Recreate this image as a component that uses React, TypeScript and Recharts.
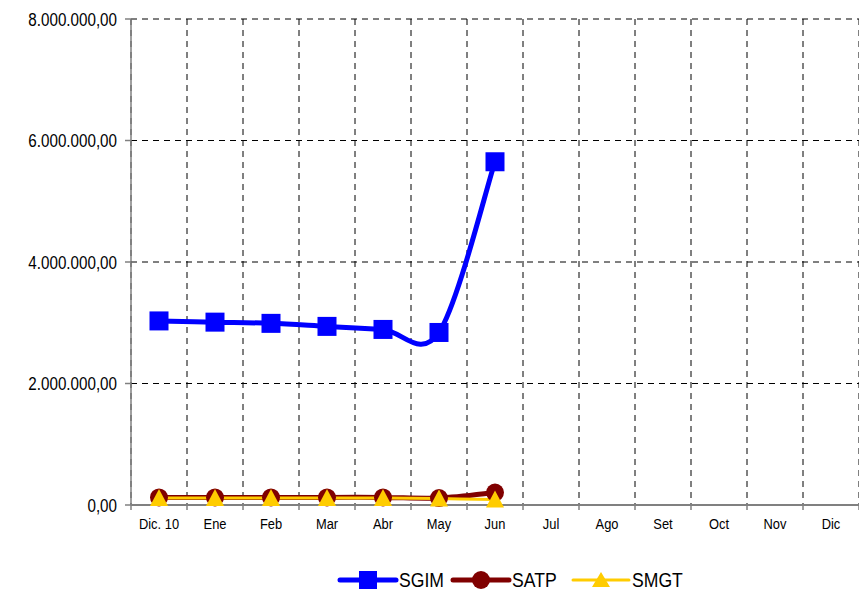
import { LineChart, Line, XAxis, YAxis, CartesianGrid } from "recharts";

const MONTHS = ["Dic. 10", "Ene", "Feb", "Mar", "Abr", "May", "Jun", "Jul", "Ago", "Set", "Oct", "Nov", "Dic"];
const SGIM = [3030000, 3010000, 2990000, 2940000, 2890000, 2840000, 5650000];
const SATP = [125000, 125000, 125000, 125000, 125000, 115000, 205000];
const SMGT = [115000, 115000, 115000, 115000, 115000, 105000, 90000];
const Y_TICKS = [0, 2000000, 4000000, 6000000, 8000000];

const W = 859;
const H = 590;
const PLOT_LEFT = 131;
const HALF_BAND = (W - PLOT_LEFT) / MONTHS.length / 2;
const FONT = "'Liberation Sans', Arial, sans-serif";

const data = SGIM.map((v, i) => ({ x: i + 0.5, SGIM: v, SATP: SATP[i], SMGT: SMGT[i] }));
const xTicks = [...MONTHS.map((_, i) => i), MONTHS.length];

// Excel-like smoothed line (Catmull-Rom bezier)
function excelSmooth(context: any) {
  let pts: number[][] = [];
  return {
    areaStart() {},
    areaEnd() {},
    lineStart() {
      pts = [];
    },
    lineEnd() {
      const n = pts.length;
      if (!n) return;
      context.moveTo(pts[0][0], pts[0][1]);
      for (let i = 0; i < n - 1; i++) {
        const p0 = pts[Math.max(i - 1, 0)];
        const p1 = pts[i];
        const p2 = pts[i + 1];
        const p3 = pts[Math.min(i + 2, n - 1)];
        context.bezierCurveTo(
          p1[0] + (p2[0] - p0[0]) / 6,
          p1[1] + (p2[1] - p0[1]) / 6,
          p2[0] - (p3[0] - p1[0]) / 6,
          p2[1] - (p3[1] - p1[1]) / 6,
          p2[0],
          p2[1]
        );
      }
    },
    point(x: number, y: number) {
      pts.push([+x, +y]);
    },
  };
}

function fmt(v: number) {
  const s = Math.round(v).toString().replace(/\B(?=(\d{3})+(?!\d))/g, ".");
  return s + ",00";
}

const YTick = (props: any) => {
  const { x, y, payload } = props;
  return (
    <g transform={`translate(${x},${y})`}>
      <text transform="scale(0.8,1)" textAnchor="end" dy="0.36em" fontSize={19} fill="#000" fontFamily={FONT}>
        {fmt(payload.value)}
      </text>
    </g>
  );
};

const XTick = (props: any) => {
  const { x, y, payload } = props;
  const label = MONTHS[payload.value];
  if (!label) return <g />;
  return (
    <g transform={`translate(${x + HALF_BAND},${y})`}>
      <text transform="scale(0.86,1)" textAnchor="middle" dy="0.71em" fontSize={15} fill="#000" fontFamily={FONT}>
        {label}
      </text>
    </g>
  );
};

const SquareDot = (props: any) => {
  const { cx, cy, index } = props;
  if (cx == null || cy == null) return <g key={index} />;
  return <rect key={index} x={cx - 9.5} y={cy - 9.5} width={19} height={19} fill="#0000FF" />;
};

const CircleDot = (props: any) => {
  const { cx, cy, index } = props;
  if (cx == null || cy == null) return <g key={index} />;
  return <circle key={index} cx={cx} cy={cy} r={9} fill="#800000" />;
};

const TriDot = (props: any) => {
  const { cx, cy, index } = props;
  if (cx == null || cy == null) return <g key={index} />;
  return <path key={index} d={`M${cx},${cy - 9}L${cx + 9},${cy + 8}L${cx - 9},${cy + 8}Z`} fill="#FFCC00" />;
};

const LEGEND = [
  { name: "SGIM", color: "#0000FF", width: 5, marker: "square" },
  { name: "SATP", color: "#800000", width: 5, marker: "circle" },
  { name: "SMGT", color: "#FFCC00", width: 3, marker: "triangle" },
];

function LegendRow() {
  const starts = [340, 453, 573];
  const cy = 580;
  return (
    <svg width={W} height={H} style={{ position: "absolute", left: 0, top: 0, pointerEvents: "none" }}>
      {LEGEND.map((item, i) => {
        const x0 = starts[i];
        const mx = x0 + 28;
        return (
          <g key={item.name}>
            <line x1={x0} y1={cy} x2={x0 + 56} y2={cy} stroke={item.color} strokeWidth={item.width} strokeLinecap="round" />
            {item.marker === "square" && <rect x={mx - 9} y={cy - 9} width={18} height={18} fill={item.color} />}
            {item.marker === "circle" && <circle cx={mx} cy={cy} r={9} fill={item.color} />}
            {item.marker === "triangle" && <path d={`M${mx},${cy - 8}L${mx + 9},${cy + 7}L${mx - 9},${cy + 7}Z`} fill={item.color} />}
            <g transform={`translate(${x0 + 59},${cy})`}>
              <text transform="scale(0.88,1)" dy="0.36em" fontSize={20} fill="#000" fontFamily={FONT}>
                {item.name}
              </text>
            </g>
          </g>
        );
      })}
    </svg>
  );
}

export default function App() {
  return (
    <div style={{ position: "absolute", left: 0, top: 0, width: W, height: H, overflow: "hidden", background: "#fff" }}>
      <style>{"html,body{margin:0;padding:0;overflow:hidden}"}</style>
      <LineChart width={W} height={H} data={data} margin={{ top: 19, right: 0, left: 0, bottom: 45 }}>
        <CartesianGrid stroke="#000" strokeDasharray="6 5" strokeWidth={1} />
        <XAxis
          dataKey="x"
          type="number"
          domain={[0, MONTHS.length]}
          ticks={xTicks}
          interval={0}
          height={40}
          tickSize={5}
          tickMargin={8}
          axisLine={{ stroke: "#808080", strokeWidth: 2 }}
          tickLine={{ stroke: "#808080", strokeWidth: 1.5 }}
          tick={<XTick />}
        />
        <YAxis
          type="number"
          domain={[0, 8000000]}
          ticks={Y_TICKS}
          interval={0}
          width={PLOT_LEFT}
          tickSize={6}
          tickMargin={8}
          axisLine={{ stroke: "#808080", strokeWidth: 1.5 }}
          tickLine={{ stroke: "#808080", strokeWidth: 1.5 }}
          tick={<YTick />}
        />
        <Line dataKey="SGIM" type={excelSmooth as any} stroke="#0000FF" strokeWidth={5} dot={SquareDot} activeDot={false} isAnimationActive={false} />
        <Line dataKey="SATP" type={excelSmooth as any} stroke="#800000" strokeWidth={5} dot={CircleDot} activeDot={false} isAnimationActive={false} />
        <Line dataKey="SMGT" type={excelSmooth as any} stroke="#FFCC00" strokeWidth={3} dot={TriDot} activeDot={false} isAnimationActive={false} />
      </LineChart>
      <LegendRow />
    </div>
  );
}
